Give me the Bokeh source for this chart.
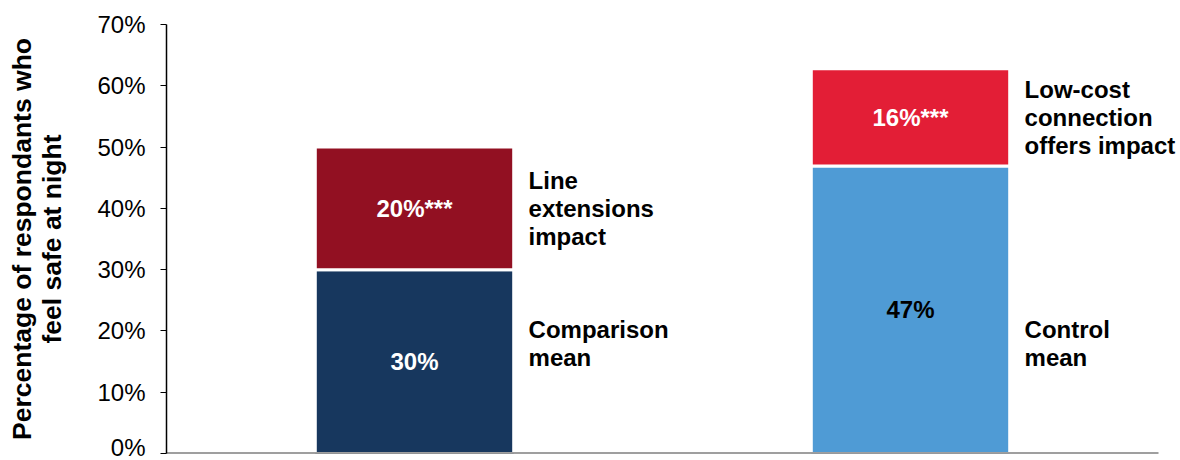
from bokeh.plotting import figure
from bokeh.models import ColumnDataSource, Range1d, PrintfTickFormatter, FixedTicker
from bokeh.transform import dodge
from bokeh.core.properties import value
from bokeh.embed import file_html
from bokeh.resources import INLINE

categories = ["Line extensions", "Low-cost connection offers"]
base_values = [30.0, 46.9]
impact_values = [20.0, 15.9]
base_labels = ["30%", "47%"]
impact_labels = ["20%***", "16%***"]
base_names = ["Comparison\nmean", "Control\nmean"]
impact_names = ["Line\nextensions\nimpact", "Low-cost\nconnection\noffers impact"]
base_colors = ["#17375E", "#4F9BD5"]
impact_colors = ["#921022", "#E31E36"]
base_label_colors = ["white", "black"]
y_ticks = [0, 10, 20, 30, 40, 50, 60, 70]

FONT = "Liberation Sans"
n = len(categories)
x_pos = list(range(n))

src = ColumnDataSource(dict(
    x=x_pos,
    cat=categories,
    base=base_values,
    impact=impact_values,
    total=[b + i for b, i in zip(base_values, impact_values)],
    base_mid=[b / 2 for b in base_values],
    impact_mid=[b + i / 2 for b, i in zip(base_values, impact_values)],
    base_label=base_labels,
    impact_label=impact_labels,
    base_name=base_names,
    impact_name=impact_names,
    base_color=base_colors,
    impact_color=impact_colors,
    base_label_color=base_label_colors,
    mean_y=[18] * n,
))

# frame spans 166..1180 px; categories occupy 166..1158 (one unit = 496 px)
x_end = -0.5 + n * (1180 - 166) / 992
p = figure(width=1180, height=460, x_range=Range1d(-0.5, x_end), y_range=(0, 70),
           output_backend="svg", toolbar_location=None,
           min_border_left=166, min_border_right=0, min_border_top=24, min_border_bottom=7)
p.outline_line_color = None
p.grid.visible = False

p.vbar(x="x", bottom=0, top="base", width=0.4, source=src,
       fill_color="base_color", line_color="white", line_width=3)
p.vbar(x="x", bottom="base", top="total", width=0.4, source=src,
       fill_color="impact_color", line_color="white", line_width=3)

# baseline (category axis line)
p.segment(x0=[-0.5], x1=[n - 0.5], y0=[0], y1=[0], line_color="#404040", line_width=2)

# value labels
p.text(x="x", y="base_mid", text="base_label", source=src, text_align="center",
       text_baseline="middle", text_color="base_label_color", text_font=value(FONT),
       text_font_style="bold", text_font_size="24px")
p.text(x="x", y="impact_mid", text="impact_label", source=src, text_align="center",
       text_baseline="middle", text_color="white", text_font=value(FONT),
       text_font_style="bold", text_font_size="24px")

# side annotations
p.text(x=dodge("x", 0.23), y="impact_mid", text="impact_name", source=src,
       text_align="left", text_baseline="middle", text_color="black", text_font=value(FONT),
       text_font_style="bold", text_font_size="24px", text_line_height=1.04)
p.text(x=dodge("x", 0.23), y="mean_y", text="base_name", source=src,
       text_align="left", text_baseline="middle", text_color="black", text_font=value(FONT),
       text_font_style="bold", text_font_size="24px", text_line_height=1.04)

# axes
p.xaxis.visible = False
ya = p.yaxis[0]
ya.ticker = FixedTicker(ticks=y_ticks)
ya.formatter = PrintfTickFormatter(format="%d%%")
ya.major_label_text_font = FONT
ya.major_label_text_font_size = "24px"
ya.major_label_text_color = "black"
ya.major_label_standoff = 15
ya.major_tick_in = 0
ya.major_tick_out = 6
ya.major_tick_line_color = "black"
ya.minor_tick_line_color = None
ya.axis_line_color = "black"
ya.axis_line_width = 1.5
ya.axis_label = "Percentage of respondants who\nfeel safe at night"
ya.axis_label_text_font = FONT
ya.axis_label_text_font_style = "bold"
ya.axis_label_text_font_size = "26.5px"
ya.axis_label_text_line_height = 1.03
ya.axis_label_text_color = "black"
ya.axis_label_standoff = 27

open("out.html", "w").write(file_html(p, INLINE))
